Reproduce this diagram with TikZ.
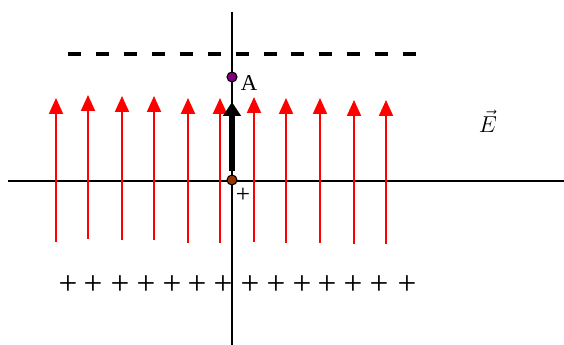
\documentclass[tikz,border=0pt]{standalone}
\usepackage{fontspec}
\setmainfont{Liberation Serif}
\usetikzlibrary{arrows.meta}
\definecolor{ptpurple}{RGB}{128,0,128}
\definecolor{ptbrown}{RGB}{153,51,0}
\tikzset{
  axis/.style={line width=1.5pt,black},
  field/.style={line width=1.5pt,red,-{Triangle[length=12pt,width=10.5pt]}},
  bigarrow/.style={line width=3.9pt,black,-{Triangle[length=10.5pt,width=13pt]}},
  dot/.style={circle,draw=black,line width=0.8pt,inner sep=0pt,minimum size=7.5pt},
  plate/.style={line width=2.4pt,dash pattern=on 9.75pt off 11.2pt},
  charge/.style={font=\fontsize{25}{27}\selectfont,inner sep=0pt}
}
\begin{document}
\begin{tikzpicture}[x=0.75pt,y=-0.75pt]
\useasboundingbox (0,0) rectangle (564,345);
% axes
\coordinate (xl) at (8,181); \coordinate (xr) at (564,181);
\coordinate (yt) at (232,12); \coordinate (yb) at (232,345);
\draw[axis] (xl) -- (xr);
\draw[axis] (yt) -- (yb);
% negative plate
\coordinate (pl) at (68,54); \coordinate (pr) at (420,54);
\draw[plate] (pl) -- (pr);
% field arrows
\foreach \x/\t/\b [count=\i] in {56/98/242,88/95/239,122/96/240,154/96/240,188/98/243,220/98/243,254/97/242,286/98/243,320/98/243,354/100/244,386/100/244}{
  \coordinate (f\i b) at (\x,\b);
  \coordinate (f\i t) at (\x,\t);
  \draw[field] (f\i b) -- (f\i t);
}
% positive plate charges
\foreach \x [count=\i] in {68,93,120,146,172,197,223,250,276,302,327,353,379,407}{
  \node[charge] (c\i) at (\x,285) {+};
}
% displacement arrow
\coordinate (s0) at (232,171); \coordinate (s1) at (232,102);
\draw[bigarrow] (s0) -- (s1);
% points
\node[dot,fill=ptpurple] (A) at (232,77) {};
\node[dot,fill=ptbrown] (O) at (232,180) {};
\node[font=\fontsize{17}{19}\selectfont,inner sep=0pt] (Alab) at (249,83) {A};
\node[font=\fontsize{19}{21}\selectfont,inner sep=0pt] (Olab) at (243,195) {+};
\node[font=\fontsize{16}{18}\selectfont,inner sep=0pt] (E) at (488,121) {$\vec{E}$};
\end{tikzpicture}
\end{document}
